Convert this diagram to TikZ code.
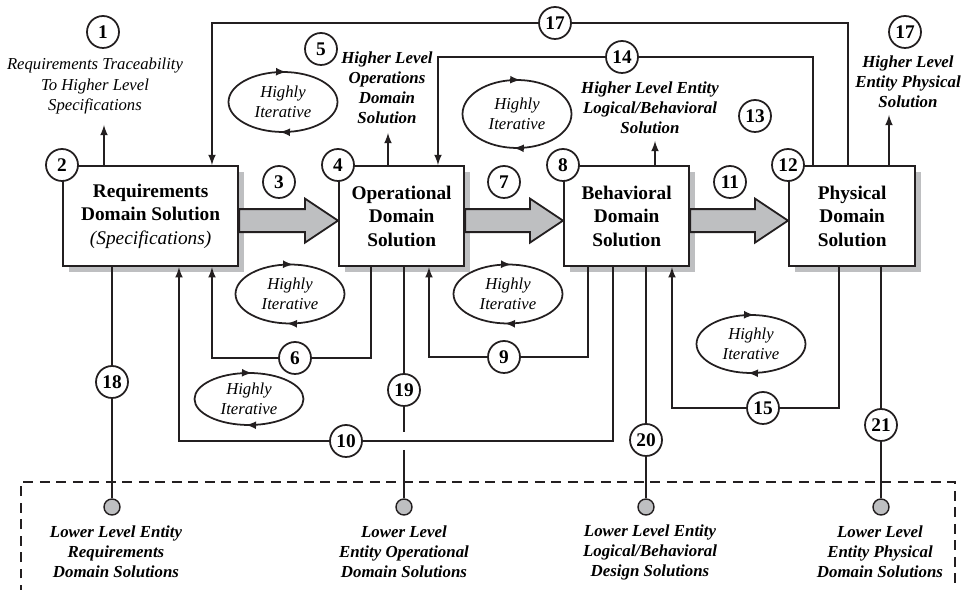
\documentclass[tikz,border=0pt]{standalone}
\usepackage{fontspec}
\setmainfont{Liberation Serif}
\usetikzlibrary{calc,shapes.geometric,shadows,decorations.markings}

\definecolor{ink}{RGB}{35,31,32}
\definecolor{shade}{RGB}{190,191,193}

\tikzset{
	domainbox/.style={draw=ink,fill=white,line width=1.3pt,minimum height=2cm,inner sep=2pt,
		align=center,anchor=north west,font=\bfseries\fontsize{11}{13.3}\selectfont,
		drop shadow={shadow xshift=0.12cm,shadow yshift=-0.12cm,fill=shade,opacity=1}},
	num/.style={circle,draw=ink,fill=white,line width=1pt,minimum size=0.64cm,inner sep=0pt,
		font=\bfseries\fontsize{11}{12}\selectfont},
	iter/.style={ellipse,draw=ink,line width=1pt,minimum width=2.18cm,minimum height=1.2cm,
		inner sep=0pt,align=center,font=\itshape\fontsize{9.5}{11.4}\selectfont,
		postaction={decorate},
		decoration={markings,
			mark=at position 0.238 with {\arrowreversed{latex}},
			mark=at position 0.738 with {\arrowreversed{latex}}}},
	note/.style={align=center,font=\itshape\fontsize{9.5}{11.4}\selectfont},
	bnote/.style={align=center,font=\bfseries\itshape\fontsize{9.6}{11.4}\selectfont},
	sink/.style={circle,draw=ink,fill=shade,line width=0.8pt,minimum size=0.32cm,inner sep=0pt},
	fat/.style={draw=ink,fill=shade,line width=1pt,line join=miter},
	wire/.style={draw=ink,line width=1pt},
	fb/.style={draw=ink,line width=1pt,-latex}
}

\newcommand{\fatarrow}[2]{%
	\draw[fat] ($(#1.east)+(0,-7)$) -- ($(#2.west)+(-33,-7)$) -- ($(#2.west)+(-33,-17.5)$)
		-- ($(#2.west)+(0,4.5)$) -- ($(#2.west)+(-33,26.5)$) -- ($(#2.west)+(-33,16)$)
		-- ($(#1.east)+(0,16)$) -- cycle;}

\begin{document}
\begin{tikzpicture}[x=0.02cm,y=-0.02cm]
	\useasboundingbox (0,0) rectangle (964,590);
	
	\draw[ink,line width=1pt,dash pattern=on 0.2cm off 0.13cm] (21,595) |- (955,482) -- (955,595);
	
	\node[domainbox,minimum width=3.5cm] (req) at (62,165) {Requirements\\Domain Solution\\{\mdseries\itshape (Specifications)}};
	\node[domainbox,minimum width=2.5cm] (ops) at (338,165) {Operational\\Domain\\Solution};
	\node[domainbox,minimum width=2.5cm] (beh) at (563,165) {Behavioral\\Domain\\Solution};
	\node[domainbox,minimum width=2.52cm] (phy) at (788,165) {Physical\\Domain\\Solution};
	
	\fatarrow{req}{ops}
	\fatarrow{ops}{beh}
	\fatarrow{beh}{phy}
	
	\node[iter] (it1) at (283,102) {Highly\\Iterative};
	\node[iter,minimum height=1.36cm] (it2) at (517,114) {Highly\\Iterative};
	\node[iter,minimum height=1.18cm] (it3) at (290,294) {Highly\\Iterative};
	\node[iter,minimum height=1.04cm] (it4) at (249,399) {Highly\\Iterative};
	\node[iter,minimum height=1.18cm] (it5) at (508,294) {Highly\\Iterative};
	\node[iter,minimum height=1.16cm] (it6) at (751,344) {Highly\\Iterative};
	
	\node[note] (trace) at (95,86) {Requirements Traceability\\To Higher Level\\Specifications};
	\node[bnote] (hiops) at (387,88) {Higher Level\\Operations\\Domain\\Solution};
	\node[bnote] (hibeh) at (650,108) {Higher Level Entity\\Logical/Behavioral\\Solution};
	\node[bnote] (hiphy) at (908,82) {Higher Level\\Entity Physical\\Solution};
	
	\node[bnote] (lo1) at (116,552) {Lower Level Entity\\Requirements\\Domain Solutions};
	\node[bnote] (lo2) at (404,552) {Lower Level\\Entity Operational\\Domain Solutions};
	\node[bnote] (lo3) at (650,552) {Lower Level Entity\\Logical/Behavioral\\Design Solutions};
	\node[bnote] (lo4) at (880,552) {Lower Level\\Entity Physical\\Domain Solutions};
	
	\node[num] (n1) at (103,32) {1};
	\node[num] (n2) at (req.north west) {2};
	\node[num] (n3) at (279,182) {3};
	\node[num] (n4) at (ops.north west) {4};
	\node[num] (n5) at (321,49) {5};
	\node[num] (n6) at (295,358) {6};
	\node[num] (n7) at (504,182) {7};
	\node[num] (n8) at (beh.north west) {8};
	\node[num] (n9) at (504,357) {9};
	\node[num] (n10) at (346,441) {10};
	\node[num] (n11) at (730,182) {11};
	\node[num] (n12) at (phy.north west) {12};
	\node[num] (n13) at (755,116) {13};
	\node[num] (n14) at (622,57) {14};
	\node[num] (n15) at (763,408) {15};
	\node[num] (n17) at (555,23) {17};
	\node[num] (n17b) at (905,32) {17};
	\node[num] (n18) at (112,382) {18};
	\node[num] (n19) at (404,390) {19};
	\node[num] (n20) at (646,440) {20};
	\node[num] (n21) at (881,425) {21};
	
	\node[sink] (s18) at (112,507) {};
	\node[sink] (s19) at (404,507) {};
	\node[sink] (s20) at (646,507) {};
	\node[sink] (s21) at (881,507) {};
	
	\coordinate (t1) at (104,125);
	\coordinate (t5) at (388,133);
	\coordinate (t8) at (655,141);
	\coordinate (t12) at (889,115);
	\coordinate (g19a) at (404,432);
	\coordinate (g19b) at (404,450);
	
	\draw[fb] (t1 |- req.north) -- (t1);
	\draw[fb] (t5 |- ops.north) -- (t5);
	\draw[fb] (t8 |- beh.north) -- (t8);
	\draw[fb] (t12 |- phy.north) -- (t12);
	
	\draw[fb] ([xshift=1.2cm]phy.north west) |- (n17) -| ([xshift=3cm]req.north west);
	\draw[fb] ([xshift=0.5cm]phy.north west) |- (n14) -| ([xshift=2cm]ops.north west);
	
	\draw[fb] ([xshift=0.66cm]ops.south west) |- (n6) -| ([xshift=3cm]req.south west);
	\draw[fb] ([xshift=1cm]beh.south west) |- (n10) -| ([xshift=2.34cm]req.south west);
	\draw[fb] ([xshift=0.5cm]beh.south west) |- (n9) -| ([xshift=1.82cm]ops.south west);
	\draw[fb] ([xshift=1.02cm]phy.south west) |- (n15) -| ([xshift=2.18cm]beh.south west);
	
	\draw[wire] (n18 |- req.south) -- (n18) -- (s18);
	\draw[wire] (n19 |- ops.south) -- (n19) -- (g19a);
	\draw[wire] (g19b) -- (s19);
	\draw[wire] (n20 |- beh.south) -- (n20) -- (s20);
	\draw[wire] (n21 |- phy.south) -- (n21) -- (s21);
\end{tikzpicture}
\end{document}
